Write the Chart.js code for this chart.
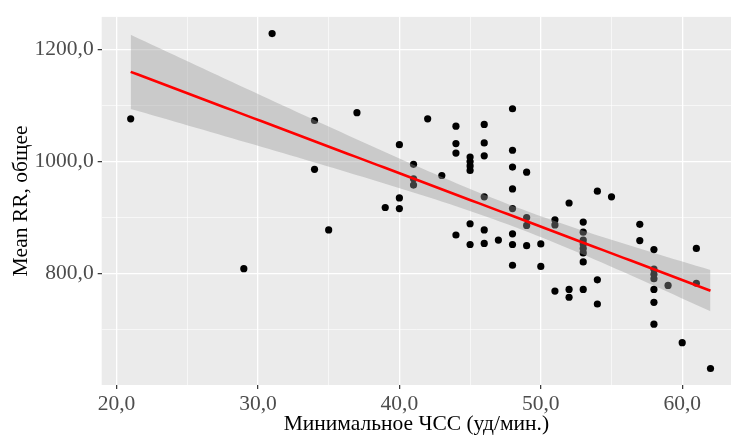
<!DOCTYPE html>
<html>
<head>
<meta charset="utf-8">
<script src="https://cdn.jsdelivr.net/npm/chart.js@4.4.1/dist/chart.umd.min.js"></script>
<style>
html,body{margin:0;padding:0;background:#fff;}
#wrap{width:731px;height:438px;position:relative;overflow:hidden;}
</style>
</head>
<body>
<div id="wrap"><canvas id="c" width="731" height="438"></canvas></div>
<script>
// Data
const minHR = [21, 29, 31, 34, 34, 35, 37, 39, 40, 40, 40, 41, 41, 41, 42, 43,
  44, 44, 44, 44, 45, 45, 45, 45, 45, 45, 46, 46, 46, 46, 46, 46, 47,
  48, 48, 48, 48, 48, 48, 48, 48, 49, 49, 49, 49, 50, 50, 51, 51, 51,
  52, 52, 52, 53, 53, 53, 53, 53, 53, 53, 53, 54, 54, 54, 55, 57, 57,
  58, 58, 58, 58, 58, 58, 58, 59, 60, 61, 61, 62];
const meanRR = [1076, 809, 1228, 1073, 986, 878, 1087, 918, 1030, 935, 916, 995, 969, 958, 1076, 975,
  1063, 1032, 1015, 869, 1008, 1000, 992, 984, 889, 852, 1066, 1033, 1010, 937, 878, 854, 860,
  1094, 1020, 990, 951, 916, 871, 852, 815, 981, 900, 886, 850, 853, 813, 896, 887, 769,
  926, 772, 758, 892, 874, 860, 853, 845, 837, 821, 772, 947, 789, 746, 937, 888, 859,
  843, 808, 799, 791, 772, 749, 710, 779, 677, 845, 783, 631];

const xMajor = [20, 30, 40, 50, 60];
const xMinor = [25, 35, 45, 55];
const yMajor = [800, 1000, 1200];
const yMinor = [700, 900, 1100];

// Linear fit (lm) with 95% confidence band, derived from the points
const n = minHR.length;
const mx = minHR.reduce((a, b) => a + b, 0) / n;
const my = meanRR.reduce((a, b) => a + b, 0) / n;
let sxx = 0, sxy = 0;
for (let i = 0; i < n; i++) { sxx += (minHR[i] - mx) ** 2; sxy += (minHR[i] - mx) * (meanRR[i] - my); }
const slope = sxy / sxx, icpt = my - slope * mx;
let sse = 0;
for (let i = 0; i < n; i++) sse += (meanRR[i] - (icpt + slope * minHR[i])) ** 2;
const se = Math.sqrt(sse / (n - 2));
const tq = 1.991;
const xLo = Math.min(...minHR), xHi = Math.max(...minHR);
const fit = [], upper = [], lower = [];
for (let k = 0; k <= 80; k++) {
  const x = xLo + (xHi - xLo) * k / 80;
  const y = icpt + slope * x;
  const h = tq * se * Math.sqrt(1 / n + (x - mx) ** 2 / sxx);
  fit.push({x, y}); upper.push({x, y: y + h}); lower.push({x, y: y - h});
}

const pts = minHR.map((x, i) => ({x, y: meanRR[i]}));
const fmt = v => v.toFixed(1).replace('.', ',');
const FONT = "'Liberation Serif', 'Times New Roman', serif";
const FS = 21.5;

const panelBg = {
  id: 'panelBg',
  beforeDraw(chart) {
    const {ctx, chartArea: a} = chart;
    ctx.save();
    ctx.fillStyle = '#EBEBEB';
    ctx.fillRect(a.left, a.top, a.right - a.left, a.bottom - a.top);
    ctx.restore();
  }
};

new Chart(document.getElementById('c'), {
  type: 'scatter',
  data: {
    datasets: [
      {data: pts, backgroundColor: '#000', borderWidth: 0, pointRadius: 3.6, order: 3},
      {type: 'line', data: upper, borderWidth: 0, pointRadius: 0, fill: '+1',
       backgroundColor: 'rgba(153,153,153,0.4)', order: 2},
      {type: 'line', data: lower, borderWidth: 0, pointRadius: 0, fill: false, order: 2},
      {type: 'line', data: fit, borderColor: '#FF0000', borderWidth: 2.6, pointRadius: 0, fill: false, order: 1}
    ]
  },
  options: {
    responsive: false,
    animation: false,
    layout: {autoPadding: false, padding: {top: 13.3, right: 0, left: 0, bottom: 0}},
    plugins: {legend: {display: false}, tooltip: {enabled: false}},
    scales: {
      x: {
        type: 'linear', min: 18.95, max: 63.45,
        afterBuildTicks: s => { s.ticks = [...xMajor, ...xMinor].sort((a, b) => a - b).map(v => ({value: v})); },
        afterFit: s => { s.height = 53; },
        border: {display: false},
        grid: {
          color: '#FFFFFF',
          lineWidth: c => xMajor.includes(c.tick.value) ? 1.3 : 0.6,
          tickColor: c => xMajor.includes(c.tick.value) ? '#333333' : 'rgba(0,0,0,0)',
          tickLength: 4, tickWidth: 1.2
        },
        ticks: {autoSkip: false, maxRotation: 0, padding: 2, color: '#4D4D4D',
          font: {family: FONT, size: FS},
          callback: v => xMajor.includes(v) ? fmt(v) : ''},
        title: {display: true, text: 'Минимальное ЧСС (уд/мин.)', color: '#000',
          font: {family: FONT, size: FS}, padding: {top: 0, bottom: 1}}
      },
      y: {
        type: 'linear', min: 601.6, max: 1257.7,
        afterBuildTicks: s => { s.ticks = [...yMajor, ...yMinor].sort((a, b) => a - b).map(v => ({value: v})); },
        afterFit: s => { s.width = 101.7; },
        border: {display: false},
        grid: {
          color: '#FFFFFF',
          lineWidth: c => yMajor.includes(c.tick.value) ? 1.3 : 0.6,
          tickColor: c => yMajor.includes(c.tick.value) ? '#333333' : 'rgba(0,0,0,0)',
          tickLength: 4, tickWidth: 1.2
        },
        ticks: {autoSkip: false, padding: 4, color: '#4D4D4D',
          font: {family: FONT, size: FS},
          callback: v => yMajor.includes(v) ? fmt(v) : ''},
        title: {display: true, text: 'Mean RR, общее', color: '#000',
          font: {family: FONT, size: FS}, padding: {top: 8, bottom: 0}}
      }
    }
  },
  plugins: [panelBg]
});
</script>
</body>
</html>
